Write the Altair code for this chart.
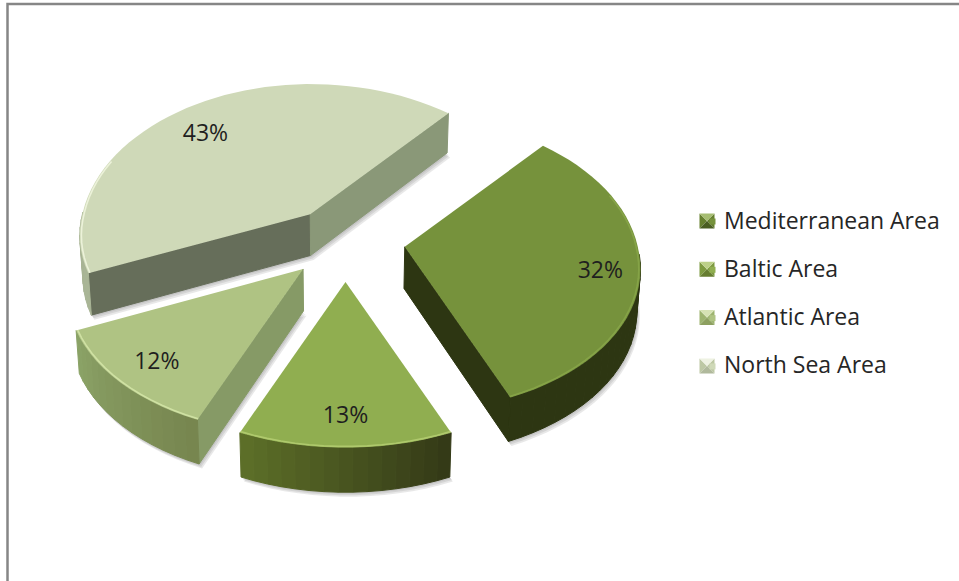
import math
import altair as alt

# Share of each sea area, in clockwise order around the pie
areas = ["Mediterranean Area", "Baltic Area", "Atlantic Area", "North Sea Area"]
shares = [32, 13, 12, 43]
top_colors = ["#76923c", "#90ae50", "#afc383", "#cfd9b8"]
rim_colors = ["#87a548", "#b3cc70", "#d3e4a6", "#eef4dd"]
wall_from = ["#2d3612", "#343a17", "#77864f", "#a9b596"]
wall_to = ["#2d3612", "#5f7229", "#8ca468", "#a3ae8e"]
first_cut_colors = ["#2d3612", "#343a17", "#869a66", "#666e5a"]
last_cut_colors = ["#2d3612", "#343a17", "#869a66", "#8a9878"]
label_reach = [0.83, 0.8, 0.8, 0.8]
label_turn = [1.0, 0.0, 0.0, -4.0]
bevel_light = ["#a6bd72", "#bcd088", "#d6e2b4", "#eef2e2"]
bevel_mid = ["#66802f", "#7d9a40", "#9db36f", "#bdc8a4"]
bevel_dark = ["#4a5e22", "#667d30", "#8da060", "#b0b99c"]

FONT = "Open Sans"
FIRST_ANGLE = 41.4
CENTER = (345.5, 241.0)
RY = 148.0
SKEW_Y = 0.12
DEPTH = 41.5


def half_width(c):
    """Horizontal radius of the tilted disc; it widens towards the viewer."""
    return 233.0 + (36.0 * c if c > 0 else 32.0 * c)


def project(radius, degrees):
    """Foreshorten a point of the tilted disc to an offset on the page."""
    t = math.radians(degrees)
    c = -math.cos(t)
    return (half_width(c) * radius * math.sin(t),
            RY * radius * c * (1 + SKEW_Y * c))


def drop(p):
    """Lower a point of the top face to the underside of the slab."""
    c = (p[1] - 241.0) / 166.0
    return (p[0] - 0.012 * (p[0] - 340.0), p[1] + DEPTH * (1 + 0.06 * c))


def mix(a, b, f):
    pa = [int(a[i:i + 2], 16) for i in (1, 3, 5)]
    pb = [int(b[i:i + 2], 16) for i in (1, 3, 5)]
    return "#%02x%02x%02x" % tuple(round(x + (y - x) * f) for x, y in zip(pa, pb))


def feature(kind, coords, **props):
    return {"type": "Feature", "properties": props,
            "geometry": {"type": kind, "coordinates": coords}}


shadows, walls, faces, rims, labels = [], [], [], [], []
angle = FIRST_ANGLE
for i, share in enumerate(shares):
    sweep = share * 3.6
    mid = angle + sweep / 2
    tm = math.radians(mid)
    cm = -math.cos(tm)
    # Each slice is pulled out of the pie along its middle direction
    apex = (CENTER[0] + 60.0 * math.sin(tm),
            CENTER[1] + 36.5 * cm * (1 + SKEW_Y * cm))
    # Slices at the back of the pie are foreshortened a little more
    far = 1 + min(0.0, apex[1] - CENTER[1]) / 600.0

    def on_disc(radius, a):
        dx, dy = project(radius, a)
        return (apex[0] + (dx * (1 + far) / 2 if dx < 0 else dx),
                apex[1] + (dy * far if dy > 0 else dy))

    steps = max(4, int(sweep / 3))
    angles = [angle + sweep * k / steps for k in range(steps + 1)]
    arc = [on_disc(1, a) for a in angles]
    outline = [apex] + arc + [apex]
    under = [drop(p) for p in outline]

    for dx, dy in [(1, 1.5), (2, 3), (3, 4.5)]:
        shadows.append(feature("Polygon", [[[x + dx, y + dy] for x, y in under]]))

    # Radial cuts of the slab: only the ones facing the viewer are drawn
    inner = on_disc(0.6, mid)
    for end, color in ((arc[0], first_cut_colors[i]), (arc[-1], last_cut_colors[i])):
        edge_y = apex[1] + (end[1] - apex[1]) * (inner[0] - apex[0]) / (end[0] - apex[0])
        if inner[1] < edge_y:
            quad = [apex, end, drop(end), drop(apex), apex]
            walls.append(feature("Polygon", [[list(p) for p in quad]], fill=color))

    # Outer wall, drawn as narrow strips so the shading can run along the arc
    for k in range(steps):
        if 90 <= angles[k] % 360 <= 270:
            a, b = arc[k], arc[k + 1]
            strip = [a, b, drop(b), drop(a), a]
            walls.append(feature("Polygon", [[list(p) for p in strip]],
                                 fill=mix(wall_from[i], wall_to[i], k / steps)))

    faces.append(feature("Polygon", [[list(p) for p in outline]], area=areas[i]))

    # Highlight along the front of the arc, just inside the edge
    lit = [list(on_disc(0.993, a)) for a in angles
           if -math.cos(math.radians(a)) > -0.4]
    if len(lit) > 1:
        rims.append(feature("LineString", lit, rim=rim_colors[i]))

    q = on_disc(label_reach[i], mid + label_turn[i])
    labels.append({"lon": q[0], "lat": q[1] + 2, "text": f"{share}%"})
    angle += sweep

# Bevel around the legend swatches
bevels = []
for i in range(len(areas)):
    x0, x1 = 699.5, 714.5
    y0 = 213.5 + 48.3 * i
    y1 = y0 + 15
    xm, ym = (x0 + x1) / 2, (y0 + y1) / 2
    for tri, color in (([[x0, y0], [x0, y1]], bevel_mid[i]),
                       ([[x1, y0], [x1, y1]], bevel_mid[i]),
                       ([[x0, y0], [x1, y0]], bevel_light[i]),
                       ([[x0, y1], [x1, y1]], bevel_dark[i])):
        bevels.append(feature("Polygon", [tri + [[xm, ym], tri[0]]], fill=color))

frame = [feature("LineString", [[7.5, 581], [7.5, 4], [959, 4]])]

ident = dict(type="identity", scale=1, translate=[0, 0])

shadow_layer = alt.Chart(alt.Data(values=shadows)).mark_geoshape(
    fill="#6f6f6f", fillOpacity=0.16, strokeWidth=0).project(**ident)

wall_layer = alt.Chart(alt.Data(values=walls)).mark_geoshape(strokeWidth=1).encode(
    fill=alt.Fill("properties.fill:N", scale=None),
    stroke=alt.Stroke("properties.fill:N", scale=None),
).project(**ident)

face_layer = alt.Chart(alt.Data(values=faces)).mark_geoshape(strokeWidth=0).encode(
    color=alt.Color(
        "properties.area:N",
        scale=alt.Scale(domain=areas, range=top_colors),
        sort=areas,
        legend=alt.Legend(
            title=None, orient="none", legendX=701, legendY=210,
            symbolType="square", symbolSize=36, symbolStrokeWidth=0,
            labelFont=FONT, labelFontSize=23, labelColor="#262626",
            labelOffset=0, rowPadding=24.3, labelLimit=300,
        ),
    )
).project(**ident)

rim_layer = alt.Chart(alt.Data(values=rims)).mark_geoshape(
    filled=False, strokeWidth=1.6, strokeOpacity=0.9
).encode(stroke=alt.Stroke("properties.rim:N", scale=None)).project(**ident)

bevel_layer = alt.Chart(alt.Data(values=bevels)).mark_geoshape(strokeWidth=0).encode(
    fill=alt.Fill("properties.fill:N", scale=None)
).project(**ident)

frame_layer = alt.Chart(alt.Data(values=frame)).mark_geoshape(
    filled=False, stroke="#868686", strokeWidth=2.5
).project(**ident)

text_layer = alt.Chart(alt.Data(values=labels)).mark_text(
    font=FONT, fontSize=23, color="#1f1f1f", align="center", baseline="middle"
).encode(longitude="lon:Q", latitude="lat:Q", text="text:N").project(**ident)

chart = alt.layer(
    frame_layer, shadow_layer, wall_layer, face_layer, rim_layer, bevel_layer, text_layer
).properties(
    width=959, height=581, padding=0,
    autosize=alt.AutoSizeParams(type="none"),
).configure_view(stroke=None).configure(background="white")

chart.save("out.html", embed_options={"renderer": "svg", "actions": False})
